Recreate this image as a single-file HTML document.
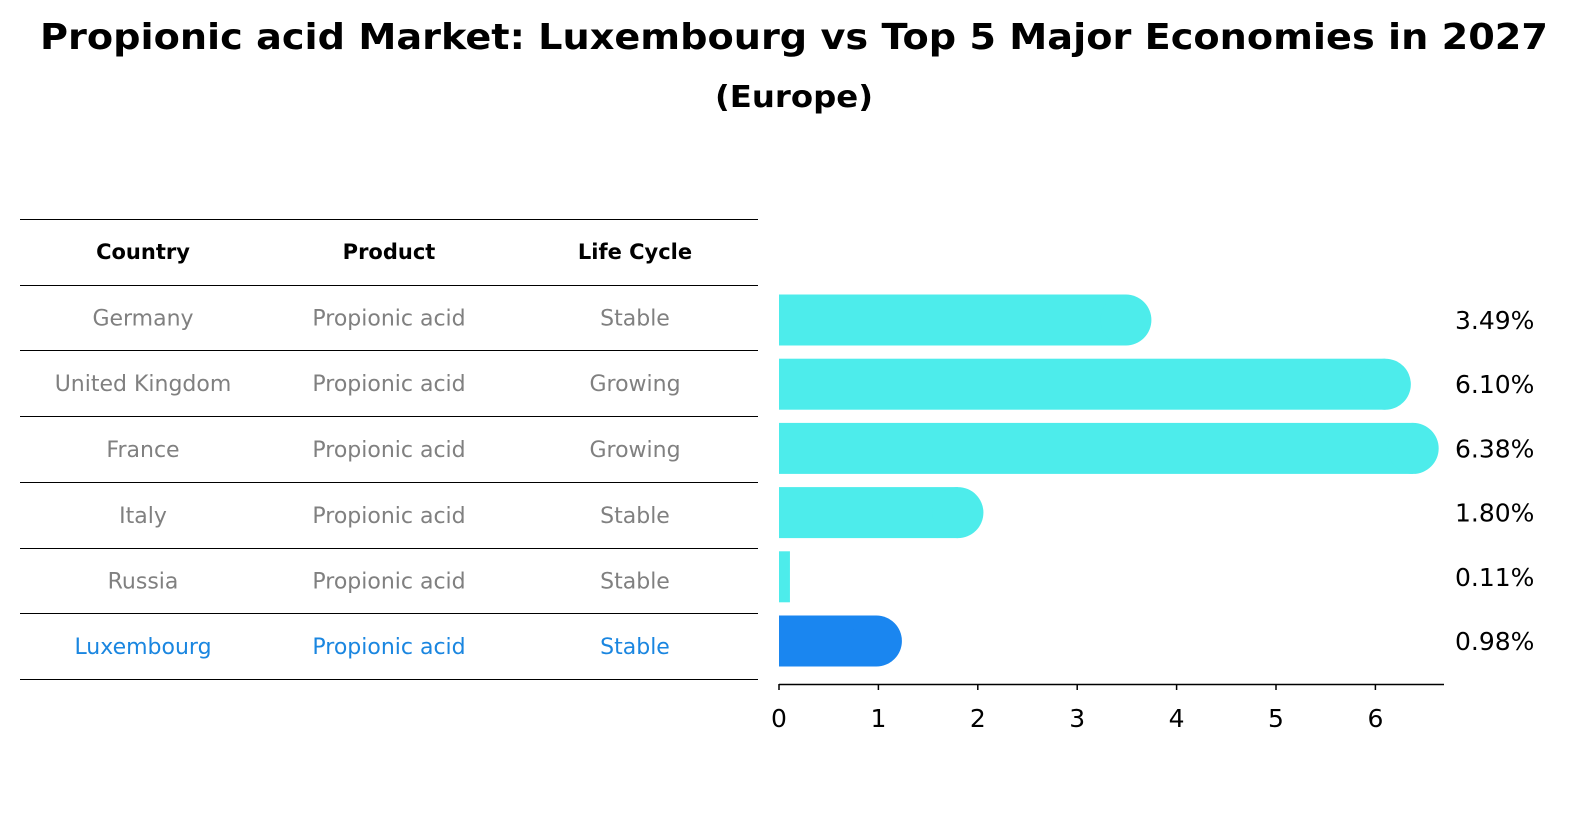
<!DOCTYPE html>
<html><head><meta charset="utf-8"><style>
html,body{margin:0;padding:0;background:#fff;overflow:hidden;font-family:"DejaVu Sans","Liberation Sans",sans-serif;}
svg{display:block;}
svg text{font-family:"DejaVu Sans","Liberation Sans",sans-serif;}
</style></head><body>
<svg width="1594" height="823" viewBox="0 0 1594 823" xmlns="http://www.w3.org/2000/svg">
<rect width="1594" height="823" fill="#fff"/>
<text x="794" y="49" text-anchor="middle" font-size="36" font-weight="bold" textLength="1508" lengthAdjust="spacingAndGlyphs">Propionic acid Market: Luxembourg vs Top 5 Major Economies in 2027</text>
<text x="794" y="107" text-anchor="middle" font-size="30" font-weight="bold" textLength="158" lengthAdjust="spacingAndGlyphs">(Europe)</text>
<g id="table"></g>
<g id="bars"></g>
<g id="axis"></g>
</svg>
<script>
const countries=["Germany","United Kingdom","France","Italy","Russia","Luxembourg"];
const products=["Propionic acid","Propionic acid","Propionic acid","Propionic acid","Propionic acid","Propionic acid"];
const lifecycles=["Stable","Growing","Growing","Stable","Stable","Stable"];
const values=[3.49,6.10,6.38,1.80,0.11,0.98];
const ticks=[0,1,2,3,4,5,6];
const NS="http://www.w3.org/2000/svg";
function mk(tag,attrs,parent,text){const e=document.createElementNS(NS,tag);for(const k in attrs)e.setAttribute(k,attrs[k]);if(text!==undefined)e.textContent=text;parent.appendChild(e);return e;}
const x=v=>779+v*99.4;
const rowY=i=>320+i*64.2;
const table=document.getElementById('table');
const lines=[219,285,350,416,482,548,613,679];
lines.forEach(y=>{const l=mk('line',{x1:20,x2:758,y1:y+0.5,y2:y+0.5,stroke:'#000','stroke-width':1},table);

});
const cols=[143,389,635];
["Country","Product","Life Cycle"].forEach((h,j)=>{const t=mk('text',{x:cols[j],y:259,'text-anchor':'middle','font-size':21,'font-weight':'bold'},table,h);

});
countries.forEach((c,i)=>{const col=i===countries.length-1?'#1a86e0':'#808080';const y=(lines[i+1]+lines[i+2])/2+8;
[c,products[i],lifecycles[i]].forEach((s,j)=>{const t=mk('text',{x:cols[j],y:y,'text-anchor':'middle','font-size':22,fill:col},table,s);

});});
const bars=document.getElementById('bars');
values.forEach((v,i)=>{const col=i===values.length-1?'#1a86f0':'#4deceb';const cy=rowY(i),h=51;
const g=mk('g',{},bars);


mk('rect',{x:x(0),y:cy-h/2,width:x(v)-x(0),height:h,fill:col},g);
if(v>0.5)mk('circle',{cx:x(v),cy:cy,r:h/2,fill:col},g);
const t=mk('text',{x:1455,y:cy+9,'font-size':25},bars,v.toFixed(2)+'%');

});
const axis=document.getElementById('axis');
mk('line',{x1:779,x2:1444,y1:684.5,y2:684.5,stroke:'#000','stroke-width':1.5},axis);
ticks.forEach(t=>{mk('line',{x1:x(t),x2:x(t),y1:684,y2:690,stroke:'#000','stroke-width':1.5},axis);
const tx=mk('text',{x:x(t),y:727,'text-anchor':'middle','font-size':25},axis,String(t));

});
</script>
</body></html>
